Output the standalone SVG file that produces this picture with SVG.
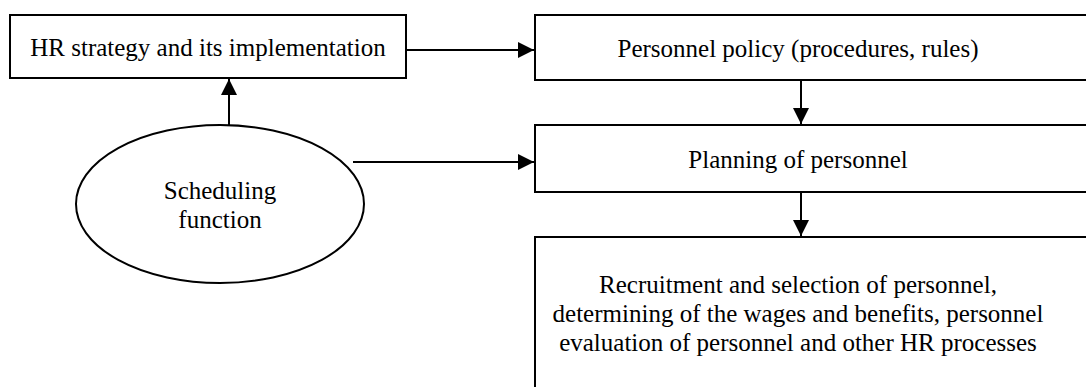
<svg xmlns="http://www.w3.org/2000/svg" width="1086" height="387" viewBox="0 0 1086 387">
  <style>
    .box { fill: #fff; stroke: #000; stroke-width: 2; }
    .lbl { font-family: 'Liberation Serif', 'Times New Roman', serif; font-size: 25px; fill: #000; text-anchor: middle; }
    .link { stroke: #000; stroke-width: 2; fill: none; marker-end: url(#head); }
  </style>
  <defs>
    <marker id="head" viewBox="0 0 16 16" refX="16" refY="8" markerWidth="16" markerHeight="16" markerUnits="userSpaceOnUse" orient="auto">
      <path d="M0,0 L16,8 L0,16 Z" fill="#000"/>
    </marker>
  </defs>

  <g id="hr-strategy">
    <rect class="box" x="10" y="15" width="396" height="63"/>
    <text class="lbl" x="208" y="56">HR strategy and its implementation</text>
  </g>

  <g id="personnel-policy">
    <rect class="box" x="535" y="15" width="560" height="65"/>
    <text class="lbl" x="798" y="57">Personnel policy (procedures, rules)</text>
  </g>

  <g id="planning">
    <rect class="box" x="535" y="125" width="560" height="67"/>
    <text class="lbl" x="798" y="168">Planning of personnel</text>
  </g>

  <g id="processes">
    <rect class="box" x="535" y="237" width="560" height="170"/>
    <text class="lbl" x="798" y="293">Recruitment and selection of personnel,</text>
    <text class="lbl" x="798" y="322">determining of the wages and benefits, personnel</text>
    <text class="lbl" x="798" y="351">evaluation of personnel and other HR processes</text>
  </g>

  <g id="scheduling">
    <ellipse class="box" cx="220" cy="204" rx="144" ry="79"/>
    <text class="lbl" x="220" y="199">Scheduling</text>
    <text class="lbl" x="220" y="228">function</text>
  </g>

  <g id="connectors">
    <line class="link" x1="406" y1="50" x2="534" y2="50"/>
    <line class="link" x1="229" y1="125" x2="229" y2="79"/>
    <line class="link" x1="353" y1="162" x2="534" y2="162"/>
    <line class="link" x1="801" y1="80" x2="801" y2="124"/>
    <line class="link" x1="801" y1="192" x2="801" y2="236"/>
  </g>
</svg>
